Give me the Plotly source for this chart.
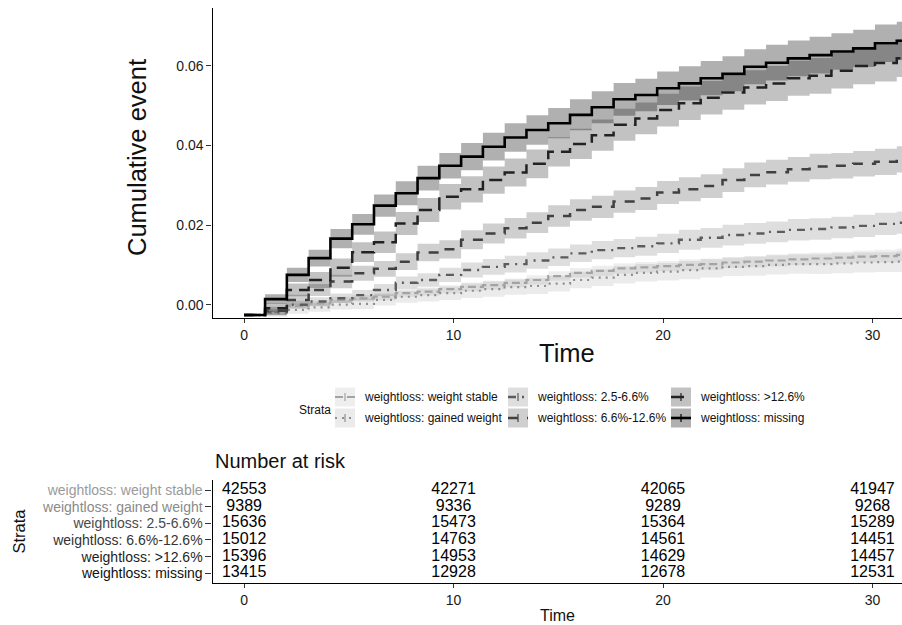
import plotly.graph_objects as go

# ---------------- data ----------------
strata = ["weightloss: weight stable", "weightloss: gained weight", "weightloss: 2.5-6.6%",
          "weightloss: 6.6%-12.6%", "weightloss: >12.6%", "weightloss: missing"]

# step times (start of each interval) and end of drawn curves
step_times = [0, 1.0, 2.04, 3.08, 4.12, 5.16, 6.2, 7.24, 8.28, 9.32, 10.36, 11.4, 12.44, 13.48,
              14.52, 15.56, 16.6, 17.64, 18.68, 19.72, 20.76, 21.8, 22.84, 23.88, 24.92, 25.96,
              27.0, 28.04, 29.08, 30.12, 31.16]
end_time = 31.6

cum_weight_stable = [-0.0026, -0.0021, -0.0003, 0.0003, 0.0012, 0.0016, 0.0020, 0.0029, 0.0033, 0.0039,
                     0.0045, 0.0049, 0.0055, 0.0062, 0.0072, 0.0080, 0.0085, 0.0091, 0.0094, 0.0097,
                     0.0100, 0.0102, 0.0106, 0.0108, 0.0111, 0.0114, 0.0116, 0.0118, 0.0121, 0.0122, 0.0125]
cum_gained_weight = [-0.0026, -0.0022, -0.0013, -0.0007, 0.0000, 0.0002, 0.0012, 0.0020, 0.0024, 0.0029,
                     0.0035, 0.0039, 0.0044, 0.0047, 0.0053, 0.0062, 0.0068, 0.0075, 0.0080, 0.0083,
                     0.0087, 0.0091, 0.0095, 0.0097, 0.0100, 0.0102, 0.0102, 0.0104, 0.0106, 0.0107, 0.0108]
cum_2_5_6_6 = [-0.0026, -0.0019, 0.0000, 0.0008, 0.0016, 0.0024, 0.0037, 0.0055, 0.0062, 0.0075,
               0.0087, 0.0095, 0.0102, 0.0111, 0.0119, 0.0129, 0.0137, 0.0142, 0.0147, 0.0154,
               0.0163, 0.0168, 0.0175, 0.0179, 0.0183, 0.0188, 0.0190, 0.0194, 0.0198, 0.0203, 0.0206]
cum_6_6_12_6 = [-0.0026, -0.0015, 0.0012, 0.0037, 0.0058, 0.0079, 0.0090, 0.0108, 0.0131, 0.0139,
                0.0163, 0.0179, 0.0192, 0.0206, 0.0223, 0.0238, 0.0246, 0.0259, 0.0267, 0.0282,
                0.0290, 0.0298, 0.0313, 0.0326, 0.0333, 0.0340, 0.0347, 0.0349, 0.0354, 0.0359, 0.0365]
cum_gt_12_6 = [-0.0026, -0.0009, 0.0037, 0.0062, 0.0093, 0.0132, 0.0157, 0.0204, 0.0238, 0.0271,
               0.0290, 0.0313, 0.0332, 0.0354, 0.0384, 0.0404, 0.0426, 0.0452, 0.0468, 0.0489,
               0.0506, 0.0520, 0.0533, 0.0546, 0.0556, 0.0569, 0.0575, 0.0588, 0.0600, 0.0607, 0.0619]
cum_missing = [-0.0026, 0.0014, 0.0075, 0.0117, 0.0166, 0.0202, 0.0249, 0.0280, 0.0318, 0.0349,
               0.0372, 0.0397, 0.0420, 0.0439, 0.0456, 0.0477, 0.0496, 0.0516, 0.0527, 0.0544,
               0.0556, 0.0569, 0.0580, 0.0598, 0.0608, 0.0619, 0.0627, 0.0636, 0.0644, 0.0657, 0.0663]

ci_weight_stable = [0, 0.0005, 0.0006, 0.0007, 0.0008, 0.0008, 0.0009, 0.0009, 0.0010, 0.0010,
                    0.0011, 0.0011, 0.0011, 0.0012, 0.0012, 0.0012, 0.0013, 0.0013, 0.0013, 0.0013,
                    0.0014, 0.0014, 0.0014, 0.0014, 0.0015, 0.0015, 0.0015, 0.0015, 0.0015, 0.0016, 0.0016]
ci_gained_weight = [0, 0.0008, 0.0010, 0.0011, 0.0012, 0.0013, 0.0014, 0.0015, 0.0016, 0.0017,
                    0.0018, 0.0019, 0.0019, 0.0020, 0.0020, 0.0021, 0.0021, 0.0022, 0.0022, 0.0022,
                    0.0023, 0.0023, 0.0023, 0.0024, 0.0024, 0.0024, 0.0025, 0.0025, 0.0025, 0.0025, 0.0026]
ci_2_5_6_6 = [0, 0.0008, 0.0010, 0.0011, 0.0012, 0.0013, 0.0015, 0.0016, 0.0017, 0.0018,
              0.0019, 0.0020, 0.0021, 0.0021, 0.0022, 0.0022, 0.0023, 0.0023, 0.0024, 0.0024,
              0.0025, 0.0025, 0.0026, 0.0026, 0.0026, 0.0027, 0.0027, 0.0027, 0.0028, 0.0028, 0.0028]
ci_6_6_12_6 = [0, 0.0010, 0.0013, 0.0015, 0.0017, 0.0019, 0.0020, 0.0021, 0.0022, 0.0023,
               0.0024, 0.0025, 0.0026, 0.0026, 0.0027, 0.0027, 0.0028, 0.0028, 0.0029, 0.0029,
               0.0030, 0.0030, 0.0030, 0.0031, 0.0031, 0.0031, 0.0032, 0.0032, 0.0032, 0.0033, 0.0033]
ci_gt_12_6 = [0, 0.0012, 0.0016, 0.0020, 0.0023, 0.0025, 0.0027, 0.0029, 0.0030, 0.0032,
              0.0033, 0.0034, 0.0035, 0.0036, 0.0037, 0.0038, 0.0039, 0.0040, 0.0040, 0.0041,
              0.0042, 0.0042, 0.0043, 0.0043, 0.0044, 0.0044, 0.0045, 0.0045, 0.0046, 0.0046, 0.0047]
ci_missing = [0, 0.0012, 0.0018, 0.0021, 0.0024, 0.0026, 0.0028, 0.0030, 0.0031, 0.0032,
              0.0034, 0.0035, 0.0036, 0.0037, 0.0038, 0.0039, 0.0040, 0.0041, 0.0041, 0.0042,
              0.0043, 0.0043, 0.0044, 0.0044, 0.0045, 0.0045, 0.0046, 0.0046, 0.0047, 0.0047, 0.0048]

risk_times = [0, 10, 20, 30]
risk_weight_stable = [42553, 42271, 42065, 41947]
risk_gained_weight = [9389, 9336, 9289, 9268]
risk_2_5_6_6 = [15636, 15473, 15364, 15289]
risk_6_6_12_6 = [15012, 14763, 14561, 14451]
risk_gt_12_6 = [15396, 14953, 14629, 14457]
risk_missing = [13415, 12928, 12678, 12531]

x_ticks = [0, 10, 20, 30]
y_ticks = [0.00, 0.02, 0.04, 0.06]

# ---------------- styles ----------------
curves = [cum_weight_stable, cum_gained_weight, cum_2_5_6_6, cum_6_6_12_6, cum_gt_12_6, cum_missing]
cis = [ci_weight_stable, ci_gained_weight, ci_2_5_6_6, ci_6_6_12_6, ci_gt_12_6, ci_missing]
risks = [risk_weight_stable, risk_gained_weight, risk_2_5_6_6, risk_6_6_12_6, risk_gt_12_6, risk_missing]
line_colors = ["#a3a3a3", "#8f8f8f", "#5c5c5c", "#404040", "#222222", "#000000"]
label_colors = ["#9a9a9a", "#8a8a8a", "#4a4a4a", "#333333", "#1e1e1e", "#111111"]
band_alpha = [0.065, 0.08, 0.13, 0.19, 0.24, 0.31]
dashes = ["8px,4px", "2px,5px", "8px,6px,2px,6px", "10px,9px", "13px,7px", "solid"]
widths = [2.2, 2.2, 2.4, 2.5, 2.5, 2.6]

W, H = 902, 625
def px(x):
    return x / W
def py(y):
    return 1 - y / H

FONT = "Liberation Sans"
fig = go.Figure()

xs = step_times + [end_time]
# confidence bands
for i in range(len(strata)):
    v = curves[i] + [curves[i][-1]]
    c = cis[i] + [cis[i][-1]]
    up = [a + b for a, b in zip(v, c)]
    lo = [a - b for a, b in zip(v, c)]
    fill = "rgba(0,0,0,%.3f)" % band_alpha[i]
    fig.add_trace(go.Scatter(x=xs, y=up, mode="lines", line=dict(width=0, shape="hv"),
                             hoverinfo="skip", showlegend=False, xaxis="x", yaxis="y"))
    fig.add_trace(go.Scatter(x=xs, y=lo, mode="lines", line=dict(width=0, shape="hv"),
                             fill="tonexty", fillcolor=fill, hoverinfo="skip", showlegend=False,
                             xaxis="x", yaxis="y"))
# step curves
for i in range(len(strata)):
    v = curves[i] + [curves[i][-1]]
    fig.add_trace(go.Scatter(x=xs, y=v, mode="lines", name=strata[i],
                             line=dict(color=line_colors[i], width=widths[i], shape="hv",
                                       dash=dashes[i]),
                             showlegend=False, xaxis="x", yaxis="y"))

# risk table
for i in range(len(strata)):
    fig.add_trace(go.Scatter(x=risk_times, y=[i + 1] * len(risk_times), mode="text",
                             text=[str(n) for n in risks[i]],
                             textfont=dict(family=FONT, size=16, color="#000000"),
                             textposition="middle center", showlegend=False,
                             hoverinfo="skip", xaxis="x2", yaxis="y2"))

xdom = [px(212.5), 1.0]
axis_common = dict(showline=True, linecolor="#000000", linewidth=1.2, ticks="outside",
                   tickcolor="#333333", tickwidth=1.1, showgrid=False, zeroline=False,
                   tickfont=dict(family=FONT, size=14, color="#1a1a1a"))
fig.update_layout(
    width=W, height=H, margin=dict(l=0, r=0, t=0, b=0),
    plot_bgcolor="white", paper_bgcolor="white", showlegend=False,
    font=dict(family=FONT, color="#1a1a1a"),
    xaxis=dict(domain=xdom, range=[-1.51, 31.41], tickvals=x_ticks, anchor="y", ticklen=4,
               **axis_common),
    yaxis=dict(domain=[py(318.3), py(8.3)], range=[-0.00342, 0.07447], tickvals=y_ticks,
               tickformat=".2f", anchor="x", ticklen=5, **axis_common),
    xaxis2=dict(domain=xdom, range=[-1.51, 31.41], tickvals=x_ticks, anchor="y2", ticklen=4,
                **axis_common),
    yaxis2=dict(domain=[py(583.3), py(480)], range=[6.6, 0.4], anchor="x2", ticklen=6,
                tickvals=[i + 1 for i in range(len(strata))],
                ticktext=['<span style="color:%s">%s</span>' % (label_colors[i], strata[i])
                          for i in range(len(strata))],
                **axis_common),
)

ann = []
ann.append(dict(text="Cumulative event", x=px(137), y=py(158), xref="paper", yref="paper",
                textangle=-90, showarrow=False, font=dict(family=FONT, size=25.5, color="#111111"),
                xanchor="center", yanchor="middle"))
ann.append(dict(text="Time", x=px(567), y=py(353), xref="paper", yref="paper", showarrow=False,
                font=dict(family=FONT, size=25.5, color="#111111"), xanchor="center", yanchor="middle"))
ann.append(dict(text="Number at risk", x=px(213), y=py(461), xref="paper", yref="paper",
                showarrow=False, font=dict(family=FONT, size=20, color="#111111"),
                xanchor="left", yanchor="middle"))
ann.append(dict(text="Strata", x=px(18), y=py(531.5), xref="paper", yref="paper", textangle=-90,
                showarrow=False, font=dict(family=FONT, size=16.5, color="#111111"),
                xanchor="center", yanchor="middle"))
ann.append(dict(text="Time", x=px(557), y=py(615), xref="paper", yref="paper", showarrow=False,
                font=dict(family=FONT, size=16, color="#111111"), xanchor="center",
                yanchor="middle"))
# legend (drawn manually to mimic the ggplot guide)
ann.append(dict(text="Strata", x=px(297), y=py(410), xref="paper", yref="paper", showarrow=False,
                font=dict(family=FONT, size=12, color="#111111"), xanchor="left",
                yanchor="middle"))
key_left = [335, 508, 671]
key_top = [387.5, 408.5]
shapes = []
for i in range(len(strata)):
    c, r = i // 2, i % 2
    x0, y0 = key_left[c], key_top[r]
    x1, y1 = x0 + 20, y0 + 19
    ym = (y0 + y1) / 2
    shapes.append(dict(type="rect", xref="paper", yref="paper", x0=px(x0), x1=px(x1),
                       y0=py(y1), y1=py(y0), line=dict(width=0),
                       fillcolor="rgba(0,0,0,%.3f)" % band_alpha[i], layer="above"))
    shapes.append(dict(type="line", xref="paper", yref="paper", x0=px(x0), x1=px(x1),
                       y0=py(ym), y1=py(ym),
                       line=dict(color=line_colors[i], width=widths[i], dash=dashes[i]),
                       layer="above"))
    shapes.append(dict(type="line", xref="paper", yref="paper", x0=px(x0 + 10), x1=px(x0 + 10),
                       y0=py(ym + 4), y1=py(ym - 4),
                       line=dict(color=line_colors[i], width=1.2), layer="above"))
    ann.append(dict(text=strata[i], x=px(x0 + 27), y=py(ym), xref="paper", yref="paper",
                    showarrow=False, font=dict(family=FONT, size=12, color="#111111"),
                    xanchor="left", yanchor="middle"))

fig.update_layout(annotations=ann, shapes=shapes)

fig.write_html("out.html", config={"displayModeBar": False},
               post_script="document.body.style.margin='0';")
